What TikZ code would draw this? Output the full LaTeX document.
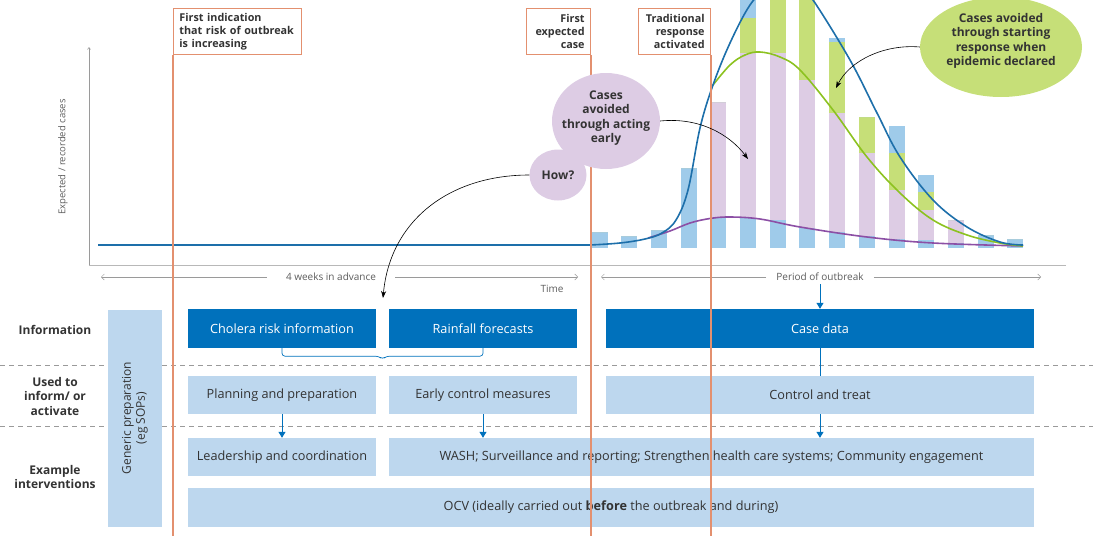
\documentclass[tikz,border=0pt]{standalone}
\usepackage{fontspec}
\setmainfont{Open Sans}
\usetikzlibrary{arrows.meta,shapes.geometric,calc}

\definecolor{infoblue}{HTML}{0071BC}
\definecolor{paleblue}{HTML}{BDD7EE}
\definecolor{barblue}{HTML}{9FCBEA}
\definecolor{lilac}{HTML}{DDCCE4}
\definecolor{leaf}{HTML}{C6DF78}
\definecolor{curveblue}{HTML}{1D6FAA}
\definecolor{curvegreen}{HTML}{8CC220}
\definecolor{curvepurple}{HTML}{8C4FA5}
\definecolor{salmonline}{HTML}{E3906F}
\definecolor{ink}{HTML}{333333}
\definecolor{axisgray}{HTML}{9A9A9A}

\newcommand\boxfont{\fontsize{12.7}{14}\selectfont}
\newcommand\axisfont{\fontsize{10}{12}\selectfont}

\tikzset{
  darkbox/.style={fill=infoblue, text=white, minimum height=39pt, inner sep=0pt, font=\boxfont},
  palebox/.style={fill=paleblue, text=ink, minimum height=38pt, inner sep=0pt, font=\boxfont},
  rowlabel/.style={text=ink, align=center, font=\fontsize{12}{14.5}\selectfont\bfseries},
  flagbox/.style={draw=salmonline, line width=0.8pt, text=ink, inner xsep=6pt, inner ysep=3pt,
    minimum height=46pt, font=\fontsize{10.8}{13}\selectfont\bfseries},
  flagline/.style={color=salmonline, line width=1.1pt},
  bubble/.style={ellipse, inner sep=0pt},
  bubbletext/.style={text=ink, align=center, font=\fontsize{12}{14.5}\selectfont\bfseries},
  axistext/.style={text=ink!80, font=\axisfont},
  span/.style={draw=axisgray, line width=0.5pt, -{Straight Barb[length=3pt,width=6pt]}},
  flow/.style={draw=infoblue, line width=1pt, -{Triangle[length=6pt,width=7pt]}},
  callout/.style={draw=black, line width=0.6pt, -{Stealth[length=7pt,width=5pt]}},
  curve/.style={line width=1.6pt},
  rowsep/.style={draw=axisgray, line width=0.6pt, dash pattern=on 5pt off 4pt}
}

\begin{document}
\begin{tikzpicture}[x=1pt,y=-1pt]
  \useasboundingbox (0,0) rectangle (1093,536);

  \draw[rowsep] (0,365) -- (1093,365);
  \draw[rowsep] (0,426) -- (1093,426);

  \node[rowlabel] (infolabel) at (55,330) {Information};
  \node[rowlabel] (usedlabel) at (55,396) {Used to\\inform/ or\\activate};
  \node[rowlabel] (examplelabel) at (55,477) {Example\\interventions};

  \node[palebox, rotate=90, minimum width=217pt, minimum height=54pt, align=center,
    font=\fontsize{12}{14}\selectfont] (generic) at (135,418) {Generic preparation\\(eg SOPs)};

  \node[darkbox, minimum width=188pt] (cholera) at (282,328.5) {Cholera risk information};
  \node[darkbox, minimum width=188pt] (rainfall) at (483,328.5) {Rainfall forecasts};
  \node[darkbox, minimum width=428pt] (casedata) at (820,328.5) {Case data};
  \node[palebox, minimum width=188pt] (planning) at (282,395) {Planning and preparation};
  \node[palebox, minimum width=188pt] (earlyctrl) at (483,395) {Early control measures};
  \node[palebox, minimum width=428pt] (control) at (820,395) {Control and treat};
  \node[palebox, minimum width=188pt] (leadership) at (282,457) {Leadership and coordination};
  \node[palebox, minimum width=645pt] (wash) at (711.5,457)
    {WASH; Surveillance and reporting; Strengthen health care systems; Community engagement};
  \node[palebox, minimum width=846pt, minimum height=39pt] (ocv) at (611,507.5)
    {OCV (ideally carried out \textbf{before} the outbreak and during)};

  \coordinate (bracemid) at ($(cholera.south)!0.5!(rainfall.south)$);
  \draw[draw=infoblue, line width=0.7pt, rounded corners=3pt] (cholera.south) -- ++(0,8)
    -- ($(bracemid)+(-4,8)$) -- ($(bracemid)+(0,11)$) -- ($(bracemid)+(4,8)$)
    -- ($(rainfall.south)+(0,8)$) -- (rainfall.south);

  \draw[flow] (planning) -- (leadership);
  \draw[flow] (earlyctrl.south) -- (earlyctrl.south |- wash.north);
  \draw[draw=infoblue, line width=1pt] (casedata) -- (control);
  \draw[flow] (control.south) -- (control.south |- wash.north);

  % axes
  \coordinate (origin) at (89,265);
  \coordinate (ytop) at (89,47);
  \coordinate (xend) at (1066,265);
  \draw[draw=axisgray!70, line width=0.6pt] (xend) -- (origin);
  \draw[draw=axisgray, line width=0.6pt, -{Straight Barb[length=2pt,width=3pt]}] (origin) -- (ytop);
  \node[axistext, rotate=90, font=\fontsize{9.5}{11}\selectfont] (ylabel) at (63,157) {Expected / recorded cases};

  \node[axistext, inner xsep=19pt] (advance) at (331,277) {4 weeks in advance};
  \coordinate (advstart) at (101,277);
  \coordinate (advend) at (578,277);
  \draw[span] (advance.west) -- (advstart);
  \draw[span] (advance.east) -- (advend);
  \node[axistext] (time) at (552,289) {Time};

  \node[axistext, inner xsep=10pt] (period) at (820,277) {Period of outbreak};
  \coordinate (perstart) at (601,277);
  \coordinate (perend) at (1041,277);
  \draw[span] (period.west) -- (perstart);
  \draw[span] (period.east) -- (perend);
  \draw[flow] (period.south) -- (period.south |- casedata.north);

  % epidemic curve
  \begin{scope}
    \clip (0,0) rectangle (1093,536);
    \foreach \n/\bb/\ll/\gg/\tt in {0/232/232/232/232, 1/236/236/236/236, 2/230/230/230/230,
        3/168/168/168/168, 4/218/102/102/102, 5/218/53/18/-10, 6/220/53/-10/-10,
        7/228/80/-10/-10, 8/232/113/42/38, 9/236/153/117/117, 10/239/190/153/126,
        11/240/210/192/175, 12/243/220/220/220, 13/235/235/235/235, 14/239/239/239/239} {
      \pgfmathsetmacro\xl{591.5+29.7*\n}
      \fill[barblue] (\xl,248) rectangle (\xl+16,\bb);
      \fill[lilac] (\xl,\bb) rectangle (\xl+16,\ll);
      \fill[leaf] (\xl,\ll) rectangle (\xl+16,\gg);
      \fill[barblue] (\xl,\gg) rectangle (\xl+16,\tt);
    }
    \draw[curve, curvepurple] plot[smooth, tension=0.6] coordinates {(648,238) (670,231) (690,223)
      (710,218.5) (730,217) (760,219) (800,227) (867,237) (933,243) (1023,246)};
    \draw[curve, curvegreen] plot[smooth, tension=0.6] coordinates {(713,85) (730,65) (745,55)
      (760,52) (780,57) (800,70) (833,110) (867,157) (900,193) (933,220) (967,235) (1000,243) (1023,246)};
    \draw[curve, curveblue] (98,245) -- plot[smooth, tension=0.6] coordinates {(590,245) (620,243)
      (645,239) (662,233) (676,220) (688,190) (700,128) (713,85) (730,43) (750,5) (768,-13)
      (785,-17) (800,-12) (813,0) (850,60) (877,113) (900,157) (933,200) (967,227) (1000,242) (1023,245)};
  \end{scope}

  \node[flagbox, anchor=north west, text width=116pt, align=left] (firstsign) at (173,8)
    {First indication\\that risk of outbreak\\is increasing};
  \node[flagbox, anchor=north east, text width=52pt, align=right] (firstcase) at (591,8)
    {First\\expected\\case};
  \node[flagbox, anchor=north east, text width=60pt, align=right] (tradresp) at (711,8)
    {Traditional\\response\\activated};
  \coordinate (signbottom) at (173,536);
  \coordinate (casebottom) at (591,536);
  \coordinate (respbottom) at (711,536);
  \draw[flagline] (firstsign.south west) -- (signbottom);
  \draw[flagline] (firstcase.south east) -- (casebottom);
  \draw[flagline] (tradresp.south east) -- (respbottom);

  \node[bubble, fill=lilac, minimum width=108pt, minimum height=96pt] (avoided) at (606,121) {};
  \node[bubbletext] (avoidedtext) at (606,118) {Cases\\avoided\\through acting\\early};
  \node[bubble, fill=lilac, minimum width=57pt, minimum height=51pt] (how) at (558,175) {};
  \node[bubbletext] (howtext) at (how) {How?};
  \node[bubble, fill=leaf, minimum width=162pt, minimum height=100pt] (declared) at (1001,47) {};
  \node[bubbletext] (declaredtext) at (1001,41) {Cases avoided\\through starting\\response when\\epidemic declared};

  \coordinate (earlytip) at (748,159);
  \coordinate (declaredtip) at (836,88);
  \coordinate (howtip) at (383,298);
  \draw[callout] (avoided.east) .. controls (700,117) and (730,135) .. (earlytip);
  \draw[callout] (declared.west) .. controls (885,44) and (850,60) .. (declaredtip);
  \draw[callout] (how.west) .. controls (450,175) and (390,220) .. (howtip);
\end{tikzpicture}
\end{document}
